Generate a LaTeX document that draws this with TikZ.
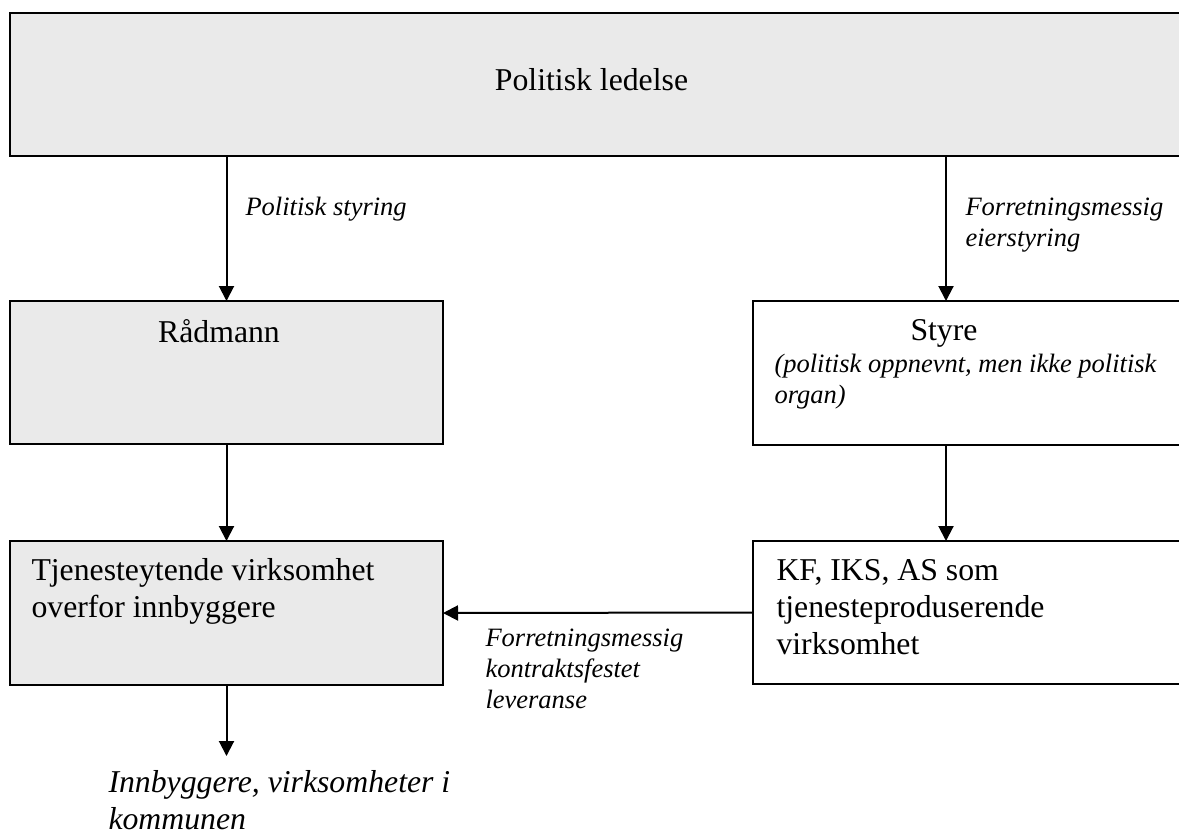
\documentclass[tikz,border=0pt]{standalone}
\usepackage{fontspec}
\setmainfont{Liberation Serif}
\usetikzlibrary{arrows.meta}
\definecolor{boxgray}{HTML}{EAEAEA}
\begin{document}
\begin{tikzpicture}[x=0.4pt,y=-0.4pt,
  box/.style={draw, line width=0.8pt, rectangle, inner sep=0pt, outer sep=0pt},
  shaded/.style={box, fill=boxgray},
  arr/.style={line width=0.8pt, -{Triangle[width=6pt,length=6pt]}},
  body/.style={font=\fontsize{12.7}{14.8}\selectfont, inner sep=0pt, align=left},
  lbl/.style={font=\fontsize{10.6}{12.4}\selectfont\itshape, inner sep=0pt, align=left}]
\useasboundingbox (0,0) rectangle (1179,835);
\clip (0,0) rectangle (1179,835);

% boxes
\node[shaded, minimum width=472pt, minimum height=57.2pt] (ledelse) at (600,84.5) {};
\node[shaded, minimum width=173.2pt, minimum height=57.2pt] (radmann) at (226.5,372.5) {};
\node[shaded, minimum width=173.2pt, minimum height=57.6pt] (tjen) at (226.5,613) {};
\node[box, fill=white, minimum width=174.8pt, minimum height=57.6pt] (styre) at (971.5,373) {};
\node[box, fill=white, minimum width=174.8pt, minimum height=57.2pt] (kf) at (971.5,612.5) {};

% box texts (multi-line nodes are anchored at the baseline of their last line)
\node[body, anchor=base] (tled) at (591.5,90) {Politisk ledelse};
\node[body, anchor=base] (trad) at (219,342) {Rådmann};
\node[body, anchor=base] (tsty) at (944,340) {Styre};
\node[lbl, anchor=base west] (tstysub) at (774,403) {(politisk oppnevnt, men ikke politisk\\organ)};
\node[body, anchor=base west] (ttjen) at (31,617) {Tjenesteytende virksomhet\\overfor innbyggere};
\node[body, anchor=base west] (tkf) at (776,654) {KF, IKS, AS som\\tjenesteproduserende\\virksomhet};

% connectors
\coordinate (rx) at (946,0);
\coordinate (out) at (226.5,756);
\draw[arr] (ledelse.south -| radmann.north) -- (radmann.north);
\draw[arr] (ledelse.south -| rx) -- (styre.north -| rx);
\draw[arr] (radmann.south) -- (tjen.north);
\draw[arr] (styre.south -| rx) -- (kf.north -| rx);
\draw[arr] (kf.west) -- (tjen.east);
\draw[arr] (tjen.south) -- (out);

% connector labels
\node[lbl, anchor=base west] (l1) at (245,215) {Politisk styring};
\node[lbl, anchor=base west] (l2) at (965,246) {Forretningsmessig\\eierstyring};
\node[lbl, anchor=base west] (l3) at (485,708) {Forretningsmessig\\kontraktsfestet\\leveranse};
\node[body, font=\fontsize{12.7}{14.8}\selectfont\itshape, anchor=base west] (tout) at (108,829) {Innbyggere, virksomheter i\\kommunen};
\end{tikzpicture}
\end{document}
